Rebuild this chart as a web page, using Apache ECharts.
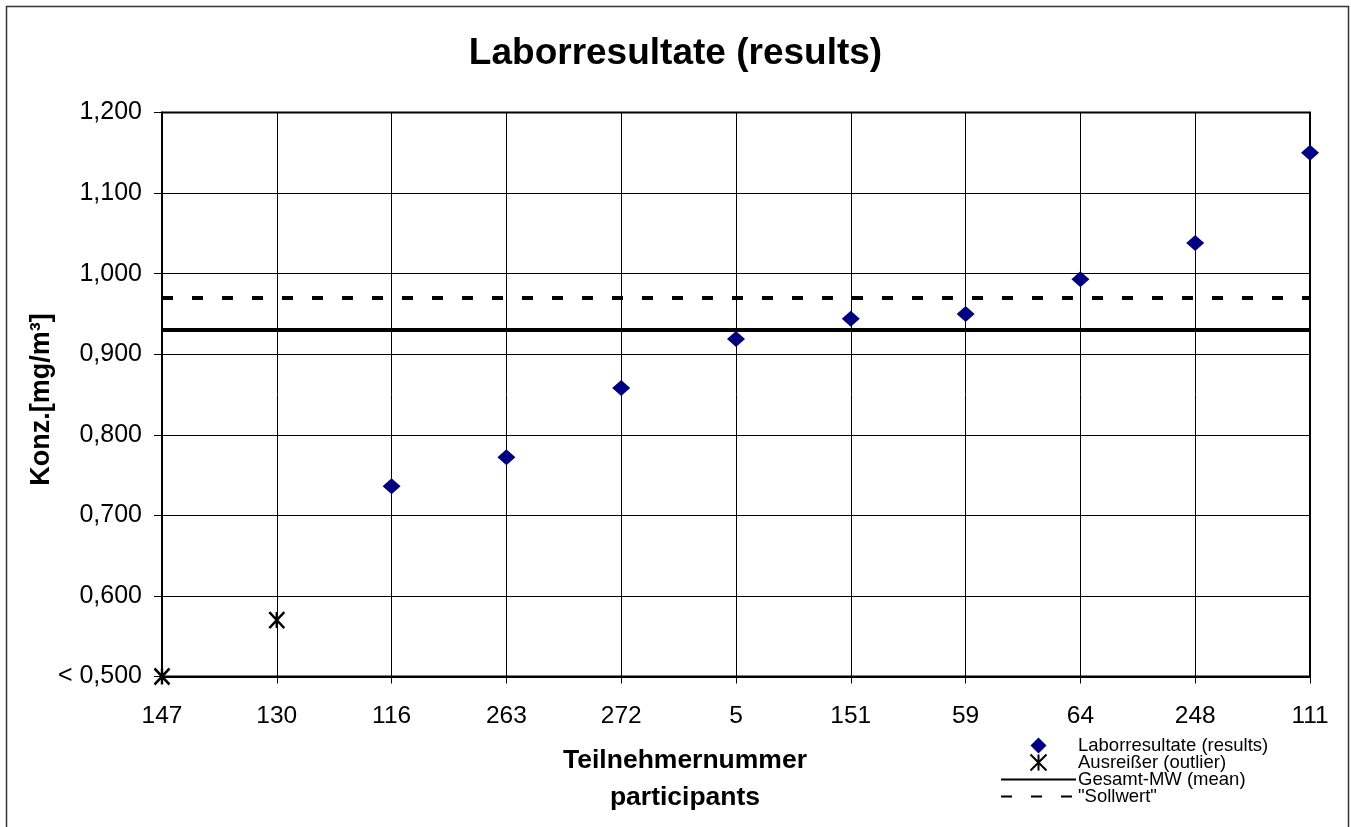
<!DOCTYPE html>
<html>
<head>
<meta charset="utf-8">
<script src="https://cdn.jsdelivr.net/npm/echarts@6/dist/echarts.min.js"></script>
<style>
html,body{margin:0;padding:0;background:#fff;}
#c{width:1351px;height:827px;}
</style>
</head>
<body>
<div id="c"></div>
<script>
const categories = ['147','130','116','263','272','5','151','59','64','248','111'];
const results = [null, null, 0.736, 0.772, 0.858, 0.919, 0.944, 0.950, 0.993, 1.038, 1.150];
const outliers = [0.500, 0.570, null, null, null, null, null, null, null, null, null];
const meanValue = 0.929;
const targetValue = 0.969;
const yMin = 0.5, yMax = 1.2, yStep = 0.1;

const FONT = 'Liberation Sans, Arial, sans-serif';
const chart = echarts.init(document.getElementById('c'));
chart.setOption({
  backgroundColor: '#fff',
  animation: false,
  textStyle: { fontFamily: FONT, color: '#000' },
  title: {
    text: 'Laborresultate (results)',
    left: 'center',
    top: 30,
    textStyle: { fontFamily: FONT, fontSize: 37, fontWeight: 'bold', color: '#000' }
  },
  graphic: [{
    type: 'rect',
    shape: { x: 6.5, y: 6.5, width: 1342, height: 840 },
    style: { fill: 'none', stroke: '#333', lineWidth: 1.5 },
    silent: true
  }],
  grid: {
    left: 162, right: 41, top: 112.5, bottom: 150.5,
    show: true, borderColor: '#000', borderWidth: 2, backgroundColor: 'transparent'
  },
  legend: {
    orient: 'vertical',
    left: 1000, top: 736,
    padding: 0,
    itemWidth: 75, itemHeight: 16, itemGap: -2,
    symbolKeepAspect: true,
    textStyle: { fontFamily: FONT, fontSize: 18.5, color: '#000', lineHeight: 17, padding: [0, 0, 0, -3] },
    data: ['Laborresultate (results)', 'Ausreißer (outlier)', 'Gesamt-MW (mean)', '"Sollwert"']
  },
  xAxis: {
    type: 'category',
    data: categories,
    boundaryGap: false,
    name: 'Teilnehmernummer\nparticipants',
    nameLocation: 'middle',
    nameGap: 66,
    nameMoveOverlap: false,
    nameTextStyle: { fontFamily: FONT, fontSize: 26.5, fontWeight: 'bold', color: '#000', lineHeight: 37, padding: [0, 102, 0, 0] },
    axisLine: { show: true, lineStyle: { color: '#000', width: 2 } },
    axisTick: { show: true, length: 7, alignWithLabel: true, lineStyle: { color: '#000', width: 1 } },
    axisLabel: { fontFamily: FONT, fontSize: 24.5, color: '#000', margin: 27 },
    splitLine: { show: true, lineStyle: { color: '#000', width: 1 } }
  },
  yAxis: {
    type: 'value',
    min: yMin, max: yMax, interval: yStep,
    name: 'Konz.[mg/m³]',
    nameLocation: 'middle',
    nameGap: 107,
    nameMoveOverlap: false,
    nameTextStyle: { fontFamily: FONT, fontSize: 27, fontWeight: 'bold', color: '#000', padding: [0, 10, 0, 0] },
    axisLine: { show: true, lineStyle: { color: '#000', width: 2 } },
    axisTick: { show: true, length: 8, lineStyle: { color: '#000', width: 1 } },
    axisLabel: {
      fontFamily: FONT, fontSize: 25, color: '#000', margin: 20,
      formatter: function (v) {
        const s = v.toFixed(3).replace('.', ',');
        return Math.abs(v - yMin) < 1e-9 ? '< ' + s : s;
      }
    },
    splitLine: { show: true, lineStyle: { color: '#000', width: 1 } }
  },
  series: [
    {
      name: 'Laborresultate (results)',
      type: 'scatter',
      data: results,
      symbol: 'path://M5,0 L10,5 L5,10 L0,5 Z',
      symbolSize: [18, 16],
      itemStyle: { color: '#000080', opacity: 1 },
      z: 5
    },
    {
      name: 'Ausreißer (outlier)',
      type: 'scatter',
      data: outliers,
      symbol: 'path://M0,0 L10,10 M10,0 L0,10 M5,0 L5,10',
      symbolSize: [15, 16],
      itemStyle: { color: '#000', borderColor: '#000', borderWidth: 2.5, opacity: 1 },
      z: 5
    },
    {
      name: 'Gesamt-MW (mean)',
      type: 'line',
      data: [],
      symbol: 'none',
      lineStyle: { color: '#000', width: 4, type: 'solid' },
      itemStyle: { color: '#000', opacity: 0 },
      markLine: {
        silent: true,
        symbol: ['none', 'none'],
        label: { show: false },
        lineStyle: { color: '#000', width: 4, type: 'solid', opacity: 1 },
        data: [{ yAxis: meanValue }]
      }
    },
    {
      name: '"Sollwert"',
      type: 'line',
      data: [],
      symbol: 'none',
      lineStyle: { color: '#000', width: 4, type: [11, 19] },
      itemStyle: { color: '#000', opacity: 0 },
      markLine: {
        silent: true,
        symbol: ['none', 'none'],
        label: { show: false },
        lineStyle: { color: '#000', width: 4, type: [11, 19], opacity: 1 },
        data: [{ yAxis: targetValue }]
      }
    }
  ]
});
</script>
</body>
</html>
